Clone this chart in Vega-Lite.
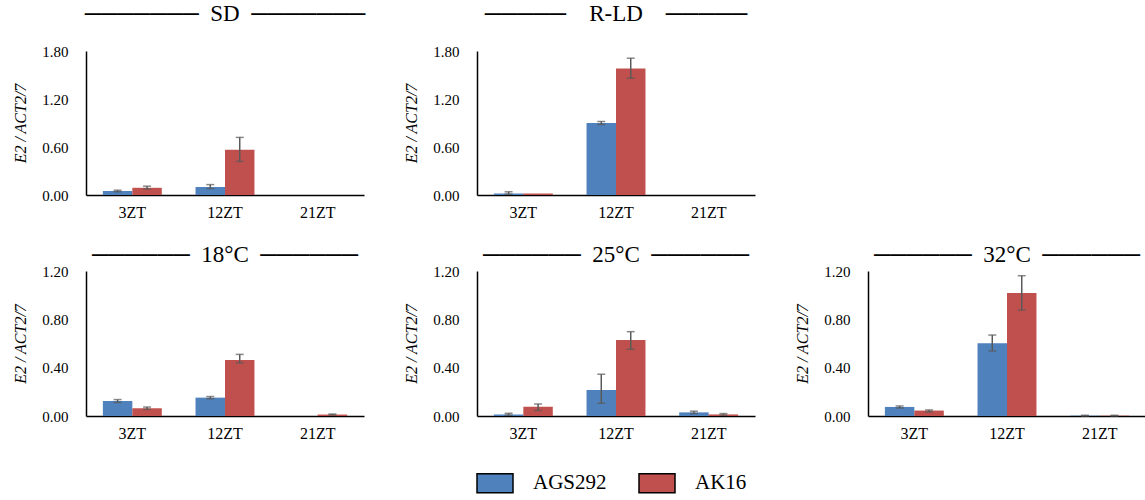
{
  "$schema": "https://vega.github.io/schema/vega-lite/v6.json",
  "padding": {"left": 12, "top": 3, "right": 0, "bottom": 0},
  "datasets": {
    "expr": [
      {"panel": "SD", "time": "3ZT", "genotype": "AGS292", "value": 0.05, "lo": 0.04, "hi": 0.06},
      {"panel": "SD", "time": "3ZT", "genotype": "AK16", "value": 0.09, "lo": 0.075, "hi": 0.11},
      {"panel": "SD", "time": "12ZT", "genotype": "AGS292", "value": 0.10, "lo": 0.08, "hi": 0.13},
      {"panel": "SD", "time": "12ZT", "genotype": "AK16", "value": 0.565, "lo": 0.42, "hi": 0.72},
      {"panel": "R-LD", "time": "3ZT", "genotype": "AGS292", "value": 0.02, "lo": 0.01, "hi": 0.04},
      {"panel": "R-LD", "time": "3ZT", "genotype": "AK16", "value": 0.02, "lo": 0.02, "hi": 0.02},
      {"panel": "R-LD", "time": "12ZT", "genotype": "AGS292", "value": 0.90, "lo": 0.88, "hi": 0.92},
      {"panel": "R-LD", "time": "12ZT", "genotype": "AK16", "value": 1.58, "lo": 1.46, "hi": 1.71},
      {"panel": "18°C", "time": "3ZT", "genotype": "AGS292", "value": 0.124, "lo": 0.112, "hi": 0.136},
      {"panel": "18°C", "time": "3ZT", "genotype": "AK16", "value": 0.064, "lo": 0.054, "hi": 0.074},
      {"panel": "18°C", "time": "12ZT", "genotype": "AGS292", "value": 0.152, "lo": 0.143, "hi": 0.161},
      {"panel": "18°C", "time": "12ZT", "genotype": "AK16", "value": 0.464, "lo": 0.44, "hi": 0.51},
      {"panel": "18°C", "time": "21ZT", "genotype": "AK16", "value": 0.012, "lo": 0.008, "hi": 0.016},
      {"panel": "25°C", "time": "3ZT", "genotype": "AGS292", "value": 0.013, "lo": 0.006, "hi": 0.022},
      {"panel": "25°C", "time": "3ZT", "genotype": "AK16", "value": 0.077, "lo": 0.045, "hi": 0.10},
      {"panel": "25°C", "time": "12ZT", "genotype": "AGS292", "value": 0.215, "lo": 0.105, "hi": 0.345},
      {"panel": "25°C", "time": "12ZT", "genotype": "AK16", "value": 0.629, "lo": 0.552, "hi": 0.698},
      {"panel": "25°C", "time": "21ZT", "genotype": "AGS292", "value": 0.03, "lo": 0.02, "hi": 0.04},
      {"panel": "25°C", "time": "21ZT", "genotype": "AK16", "value": 0.013, "lo": 0.006, "hi": 0.02},
      {"panel": "32°C", "time": "3ZT", "genotype": "AGS292", "value": 0.075, "lo": 0.066, "hi": 0.083},
      {"panel": "32°C", "time": "3ZT", "genotype": "AK16", "value": 0.045, "lo": 0.033, "hi": 0.05},
      {"panel": "32°C", "time": "12ZT", "genotype": "AGS292", "value": 0.602, "lo": 0.538, "hi": 0.67},
      {"panel": "32°C", "time": "12ZT", "genotype": "AK16", "value": 1.018, "lo": 0.877, "hi": 1.161},
      {"panel": "32°C", "time": "21ZT", "genotype": "AGS292", "value": 0.003, "lo": 0.0, "hi": 0.006},
      {"panel": "32°C", "time": "21ZT", "genotype": "AK16", "value": 0.003, "lo": 0.0, "hi": 0.006}
    ]
  },
  "data": {"name": "expr"},
  "spacing": 24,
  "vconcat": [
    {
      "spacing": 113,
      "bounds": "flush",
      "hconcat": [
        {
          "width": 278, "height": 144,
          "title": {"text": "───────\u00a0\u00a0SD\u00a0\u00a0───────", "offset": 18},
          "transform": [{"filter": "datum.panel === 'SD'"}],
          "encoding": {
            "x": {"field": "time", "type": "nominal", "sort": ["3ZT", "12ZT", "21ZT"], "scale": {"domain": ["3ZT", "12ZT", "21ZT"], "paddingInner": 0.364, "paddingOuter": 0.182}, "axis": {"title": null}},
            "xOffset": {"field": "genotype", "type": "nominal", "scale": {"domain": ["AGS292", "AK16"], "paddingInner": 0, "paddingOuter": 0}}
          },
          "layer": [
            {"mark": {"type": "bar"}, "encoding": {
              "y": {"field": "value", "type": "quantitative", "scale": {"domain": [0, 1.8]}, "axis": {"values": [0, 0.6, 1.2, 1.8], "format": ".2f", "title": "E2 / ACT2/7"}},
              "color": {"field": "genotype", "type": "nominal", "scale": {"domain": ["AGS292", "AK16"], "range": ["#4F81BD", "#C0504D"]}, "legend": {"title": null, "orient": "none", "legendX": 390, "legendY": 413, "direction": "horizontal", "columns": 2}}}},
            {"transform": [{"filter": "datum.hi > datum.lo"}], "mark": {"type": "rule", "color": "#595959", "strokeWidth": 1.5}, "encoding": {"y": {"field": "lo", "type": "quantitative"}, "y2": {"field": "hi"}}},
            {"transform": [{"filter": "datum.hi > datum.lo"}], "mark": {"type": "tick", "color": "#595959", "thickness": 1.5, "size": 8, "orient": "horizontal"}, "encoding": {"y": {"field": "lo", "type": "quantitative"}}},
            {"transform": [{"filter": "datum.hi > datum.lo"}], "mark": {"type": "tick", "color": "#595959", "thickness": 1.5, "size": 8, "orient": "horizontal"}, "encoding": {"y": {"field": "hi", "type": "quantitative"}}}
          ]
        },
        {
          "width": 278, "height": 144,
          "title": {"text": "─────\u00a0\u00a0\u00a0\u00a0R-LD\u00a0\u00a0\u00a0\u00a0─────", "offset": 18},
          "transform": [{"filter": "datum.panel === 'R-LD'"}],
          "encoding": {
            "x": {"field": "time", "type": "nominal", "sort": ["3ZT", "12ZT", "21ZT"], "scale": {"domain": ["3ZT", "12ZT", "21ZT"], "paddingInner": 0.364, "paddingOuter": 0.182}, "axis": {"title": null}},
            "xOffset": {"field": "genotype", "type": "nominal", "scale": {"domain": ["AGS292", "AK16"], "paddingInner": 0, "paddingOuter": 0}}
          },
          "layer": [
            {"mark": {"type": "bar"}, "encoding": {
              "y": {"field": "value", "type": "quantitative", "scale": {"domain": [0, 1.8]}, "axis": {"values": [0, 0.6, 1.2, 1.8], "format": ".2f", "title": "E2 / ACT2/7"}},
              "color": {"field": "genotype", "type": "nominal", "scale": {"domain": ["AGS292", "AK16"], "range": ["#4F81BD", "#C0504D"]}, "legend": {"title": null, "orient": "none", "legendX": 390, "legendY": 413, "direction": "horizontal", "columns": 2}}}},
            {"transform": [{"filter": "datum.hi > datum.lo"}], "mark": {"type": "rule", "color": "#595959", "strokeWidth": 1.5}, "encoding": {"y": {"field": "lo", "type": "quantitative"}, "y2": {"field": "hi"}}},
            {"transform": [{"filter": "datum.hi > datum.lo"}], "mark": {"type": "tick", "color": "#595959", "thickness": 1.5, "size": 8, "orient": "horizontal"}, "encoding": {"y": {"field": "lo", "type": "quantitative"}}},
            {"transform": [{"filter": "datum.hi > datum.lo"}], "mark": {"type": "tick", "color": "#595959", "thickness": 1.5, "size": 8, "orient": "horizontal"}, "encoding": {"y": {"field": "hi", "type": "quantitative"}}}
          ]
        }
      ]
    },
    {
      "spacing": 113,
      "bounds": "flush",
      "hconcat": [
        {
          "width": 278, "height": 145,
          "title": {"text": "──────\u00a0\u00a018°C\u00a0\u00a0──────", "offset": -3},
          "transform": [{"filter": "datum.panel === '18°C'"}],
          "encoding": {
            "x": {"field": "time", "type": "nominal", "sort": ["3ZT", "12ZT", "21ZT"], "scale": {"domain": ["3ZT", "12ZT", "21ZT"], "paddingInner": 0.364, "paddingOuter": 0.182}, "axis": {"title": null}},
            "xOffset": {"field": "genotype", "type": "nominal", "scale": {"domain": ["AGS292", "AK16"], "paddingInner": 0, "paddingOuter": 0}}
          },
          "layer": [
            {"mark": {"type": "bar"}, "encoding": {
              "y": {"field": "value", "type": "quantitative", "scale": {"domain": [0, 1.2]}, "axis": {"values": [0, 0.4, 0.8, 1.2], "format": ".2f", "title": "E2 / ACT2/7"}},
              "color": {"field": "genotype", "type": "nominal", "scale": {"domain": ["AGS292", "AK16"], "range": ["#4F81BD", "#C0504D"]}, "legend": {"title": null, "orient": "none", "legendX": 390, "legendY": 413, "direction": "horizontal", "columns": 2}}}},
            {"transform": [{"filter": "datum.hi > datum.lo"}], "mark": {"type": "rule", "color": "#595959", "strokeWidth": 1.5}, "encoding": {"y": {"field": "lo", "type": "quantitative"}, "y2": {"field": "hi"}}},
            {"transform": [{"filter": "datum.hi > datum.lo"}], "mark": {"type": "tick", "color": "#595959", "thickness": 1.5, "size": 8, "orient": "horizontal"}, "encoding": {"y": {"field": "lo", "type": "quantitative"}}},
            {"transform": [{"filter": "datum.hi > datum.lo"}], "mark": {"type": "tick", "color": "#595959", "thickness": 1.5, "size": 8, "orient": "horizontal"}, "encoding": {"y": {"field": "hi", "type": "quantitative"}}}
          ]
        },
        {
          "width": 278, "height": 145,
          "title": {"text": "──────\u00a0\u00a025°C\u00a0\u00a0──────", "offset": -3},
          "transform": [{"filter": "datum.panel === '25°C'"}],
          "encoding": {
            "x": {"field": "time", "type": "nominal", "sort": ["3ZT", "12ZT", "21ZT"], "scale": {"domain": ["3ZT", "12ZT", "21ZT"], "paddingInner": 0.364, "paddingOuter": 0.182}, "axis": {"title": null}},
            "xOffset": {"field": "genotype", "type": "nominal", "scale": {"domain": ["AGS292", "AK16"], "paddingInner": 0, "paddingOuter": 0}}
          },
          "layer": [
            {"mark": {"type": "bar"}, "encoding": {
              "y": {"field": "value", "type": "quantitative", "scale": {"domain": [0, 1.2]}, "axis": {"values": [0, 0.4, 0.8, 1.2], "format": ".2f", "title": "E2 / ACT2/7"}},
              "color": {"field": "genotype", "type": "nominal", "scale": {"domain": ["AGS292", "AK16"], "range": ["#4F81BD", "#C0504D"]}, "legend": {"title": null, "orient": "none", "legendX": 390, "legendY": 413, "direction": "horizontal", "columns": 2}}}},
            {"transform": [{"filter": "datum.hi > datum.lo"}], "mark": {"type": "rule", "color": "#595959", "strokeWidth": 1.5}, "encoding": {"y": {"field": "lo", "type": "quantitative"}, "y2": {"field": "hi"}}},
            {"transform": [{"filter": "datum.hi > datum.lo"}], "mark": {"type": "tick", "color": "#595959", "thickness": 1.5, "size": 8, "orient": "horizontal"}, "encoding": {"y": {"field": "lo", "type": "quantitative"}}},
            {"transform": [{"filter": "datum.hi > datum.lo"}], "mark": {"type": "tick", "color": "#595959", "thickness": 1.5, "size": 8, "orient": "horizontal"}, "encoding": {"y": {"field": "hi", "type": "quantitative"}}}
          ]
        },
        {
          "width": 278, "height": 145,
          "title": {"text": "──────\u00a0\u00a032°C\u00a0\u00a0──────", "offset": -3},
          "transform": [{"filter": "datum.panel === '32°C'"}],
          "encoding": {
            "x": {"field": "time", "type": "nominal", "sort": ["3ZT", "12ZT", "21ZT"], "scale": {"domain": ["3ZT", "12ZT", "21ZT"], "paddingInner": 0.364, "paddingOuter": 0.182}, "axis": {"title": null}},
            "xOffset": {"field": "genotype", "type": "nominal", "scale": {"domain": ["AGS292", "AK16"], "paddingInner": 0, "paddingOuter": 0}}
          },
          "layer": [
            {"mark": {"type": "bar"}, "encoding": {
              "y": {"field": "value", "type": "quantitative", "scale": {"domain": [0, 1.2]}, "axis": {"values": [0, 0.4, 0.8, 1.2], "format": ".2f", "title": "E2 / ACT2/7"}},
              "color": {"field": "genotype", "type": "nominal", "scale": {"domain": ["AGS292", "AK16"], "range": ["#4F81BD", "#C0504D"]}, "legend": {"title": null, "orient": "none", "legendX": 390, "legendY": 413, "direction": "horizontal", "columns": 2}}}},
            {"transform": [{"filter": "datum.hi > datum.lo"}], "mark": {"type": "rule", "color": "#595959", "strokeWidth": 1.5}, "encoding": {"y": {"field": "lo", "type": "quantitative"}, "y2": {"field": "hi"}}},
            {"transform": [{"filter": "datum.hi > datum.lo"}], "mark": {"type": "tick", "color": "#595959", "thickness": 1.5, "size": 8, "orient": "horizontal"}, "encoding": {"y": {"field": "lo", "type": "quantitative"}}},
            {"transform": [{"filter": "datum.hi > datum.lo"}], "mark": {"type": "tick", "color": "#595959", "thickness": 1.5, "size": 8, "orient": "horizontal"}, "encoding": {"y": {"field": "hi", "type": "quantitative"}}}
          ]
        }
      ]
    }
  ],
  "config": {
    "view": {"stroke": null},
    "font": "Times New Roman, Liberation Serif, serif",
    "title": {"font": "Times New Roman, Liberation Serif, DejaVu Sans", "fontSize": 23, "fontWeight": "normal", "color": "#000", "baseline": "alphabetic", "anchor": "middle"},
    "axis": {"domainColor": "#000", "domainWidth": 1.5, "ticks": false, "grid": false, "labelFont": "Times New Roman, Liberation Serif, serif", "labelColor": "#000", "titleFont": "Times New Roman, Liberation Serif, serif", "titleColor": "#000"},
    "axisX": {"labelFontSize": 16, "labelPadding": 9, "labelAngle": 0},
    "axisY": {"labelFontSize": 15, "labelPadding": 18, "titleFontSize": 16, "titleFontStyle": "italic", "titleFontWeight": "normal", "titlePadding": 13},
    "legend": {"symbolType": "M-1,-0.528L1,-0.528L1,0.528L-1,0.528Z", "symbolSize": 1296, "symbolStrokeColor": "#000", "symbolStrokeWidth": 1.5, "symbolOpacity": 1, "labelFont": "Times New Roman, Liberation Serif, serif", "labelFontSize": 21, "labelColor": "#000", "labelOffset": 19, "columnPadding": 29}
  }
}
